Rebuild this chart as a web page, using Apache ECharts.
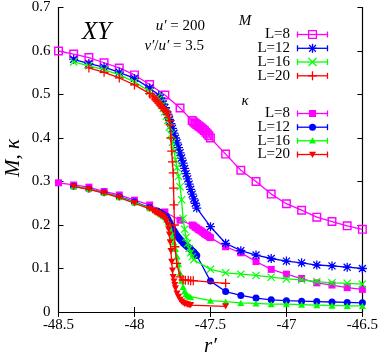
<!DOCTYPE html>
<html><head><meta charset="utf-8">
<script src="https://cdn.jsdelivr.net/npm/echarts@6/dist/echarts.min.js"></script>
<style>html,body{margin:0;padding:0;background:#fff}#c{width:381px;height:357px}</style>
</head><body><div id="c"></div>
<script>
// ---- tick labels ----
const xTicks = [-48.5, -48, -47.5, -47, -46.5];
const yTicks = [0, 0.1, 0.2, 0.3, 0.4, 0.5, 0.6, 0.7];
const sizeLabels = ['L=8', 'L=12', 'L=16', 'L=20'];

// ---- M (order parameter) ----
const M_L8 = [[-48.5,0.600],[-48.4,0.593],[-48.3,0.585],[-48.2,0.573],[-48.1,0.561],[-48.0,0.545],[-47.9,0.523],[-47.8,0.499],[-47.7,0.469],
 [-47.62,0.440],[-47.61,0.437],[-47.60,0.434],[-47.59,0.431],[-47.58,0.428],[-47.57,0.426],[-47.56,0.423],[-47.55,0.420],[-47.54,0.417],[-47.53,0.413],[-47.52,0.409],[-47.51,0.405],[-47.50,0.400],
 [-47.4,0.363],[-47.3,0.326],[-47.2,0.300],[-47.1,0.271],[-47.0,0.249],[-46.9,0.234],[-46.8,0.218],[-46.7,0.208],[-46.6,0.198],[-46.5,0.190]];
const M_L12 = [[-48.4,0.581],[-48.3,0.571],[-48.2,0.563],[-48.1,0.551],[-48.0,0.537],[-47.9,0.515],
 [-47.84,0.498],[-47.83,0.492],[-47.82,0.485],[-47.81,0.478],[-47.80,0.470],[-47.79,0.462],[-47.78,0.453],[-47.77,0.443],[-47.76,0.433],[-47.75,0.422],[-47.74,0.411],[-47.73,0.400],[-47.72,0.389],[-47.71,0.378],[-47.70,0.366],[-47.69,0.354],[-47.68,0.342],[-47.67,0.330],[-47.66,0.318],[-47.65,0.306],[-47.64,0.294],[-47.63,0.282],[-47.62,0.271],[-47.61,0.260],[-47.60,0.250],[-47.59,0.239],
 [-47.5,0.196],[-47.4,0.158],[-47.3,0.141],[-47.2,0.131],[-47.1,0.123],[-47.0,0.117],[-46.9,0.113],[-46.8,0.108],[-46.7,0.106],[-46.6,0.103],[-46.5,0.100]];
const M_L16 = [[-48.4,0.575],[-48.3,0.566],[-48.2,0.557],[-48.1,0.545],[-48.0,0.529],[-47.9,0.507],
 [-47.85,0.494],[-47.84,0.489],[-47.83,0.482],[-47.82,0.475],[-47.81,0.468],[-47.80,0.460],[-47.79,0.450],[-47.78,0.440],[-47.77,0.425],[-47.76,0.408],[-47.75,0.390],[-47.74,0.370],[-47.73,0.350],[-47.72,0.332],[-47.71,0.312],[-47.70,0.288],[-47.69,0.258],[-47.68,0.215],[-47.67,0.190],[-47.66,0.172],[-47.65,0.158],[-47.64,0.146],[-47.63,0.136],[-47.62,0.127],[-47.61,0.120],
 [-47.5,0.098],[-47.4,0.090],[-47.3,0.087],[-47.2,0.084],[-47.1,0.080],[-47.0,0.076],[-46.9,0.074],[-46.8,0.070],[-46.7,0.067],[-46.6,0.066],[-46.5,0.064]];
const M_L20 = [[-48.3,0.561],[-48.2,0.551],[-48.1,0.538],[-48.0,0.522],[-47.9,0.502],
 [-47.88,0.496],[-47.87,0.492],[-47.86,0.488],[-47.85,0.484],[-47.84,0.480],[-47.83,0.476],[-47.82,0.472],[-47.81,0.468],[-47.80,0.464],[-47.79,0.460],[-47.78,0.455],[-47.775,0.447],[-47.77,0.440],
 [-47.765,0.430],[-47.76,0.400],[-47.755,0.370],[-47.75,0.345],[-47.745,0.320],[-47.743,0.285],[-47.74,0.246],[-47.737,0.200],[-47.734,0.150],[-47.722,0.112],[-47.70,0.081],
 [-47.68,0.074],[-47.665,0.073],[-47.646,0.073],[-47.63,0.072],[-47.613,0.072],[-47.4,0.066]];

// ---- kappa ----
const K_L8 = [[-48.5,0.297],[-48.4,0.292],[-48.3,0.287],[-48.2,0.277],[-48.1,0.269],[-48.0,0.257],[-47.9,0.246],[-47.8,0.230],[-47.7,0.211],
 [-47.62,0.200],[-47.61,0.198],[-47.60,0.195],[-47.59,0.193],[-47.58,0.190],[-47.57,0.188],[-47.56,0.186],[-47.55,0.183],[-47.54,0.180],[-47.53,0.178],[-47.52,0.176],[-47.51,0.173],[-47.50,0.171],
 [-47.4,0.150],[-47.3,0.136],[-47.2,0.116],[-47.1,0.098],[-47.0,0.087],[-46.9,0.077],[-46.8,0.067],[-46.7,0.062],[-46.6,0.056],[-46.5,0.052]];
const K_L12 = [[-48.4,0.289],[-48.3,0.283],[-48.2,0.274],[-48.1,0.265],[-48.0,0.253],[-47.9,0.240],
 [-47.85,0.232],[-47.84,0.230],[-47.83,0.228],[-47.82,0.226],[-47.81,0.224],[-47.80,0.222],[-47.79,0.220],[-47.78,0.214],[-47.77,0.207],[-47.76,0.200],[-47.75,0.193],[-47.74,0.187],[-47.73,0.181],[-47.72,0.176],[-47.71,0.171],[-47.70,0.167],[-47.69,0.163],[-47.68,0.159],[-47.67,0.156],[-47.66,0.153],[-47.65,0.150],[-47.64,0.147],[-47.63,0.144],[-47.62,0.141],[-47.61,0.138],[-47.60,0.134],[-47.59,0.130],
 [-47.5,0.071],[-47.4,0.047],[-47.3,0.038],[-47.2,0.032],[-47.1,0.028],[-47.0,0.026],[-46.9,0.025],[-46.8,0.024],[-46.7,0.023],[-46.6,0.022],[-46.5,0.021]];
const K_L16 = [[-48.4,0.289],[-48.3,0.283],[-48.2,0.274],[-48.1,0.264],[-48.0,0.252],[-47.9,0.239],
 [-47.85,0.231],[-47.84,0.229],[-47.83,0.227],[-47.82,0.224],[-47.81,0.221],[-47.80,0.218],[-47.79,0.213],[-47.78,0.206],[-47.77,0.197],[-47.76,0.186],[-47.75,0.174],[-47.74,0.160],[-47.73,0.145],[-47.72,0.128],[-47.71,0.110],[-47.70,0.090],[-47.69,0.072],[-47.68,0.058],[-47.67,0.048],[-47.66,0.042],[-47.65,0.038],[-47.64,0.036],[-47.63,0.034],
 [-47.5,0.026],[-47.4,0.024],[-47.3,0.021],[-47.2,0.020],[-47.1,0.018],[-47.0,0.018],[-46.9,0.017],[-46.8,0.016],[-46.7,0.015],[-46.6,0.014],[-46.5,0.014]];
const K_L20 = [[-48.4,0.288],[-48.3,0.282],[-48.2,0.273],[-48.1,0.263],[-48.0,0.250],[-47.9,0.237],
 [-47.88,0.233],[-47.87,0.231],[-47.86,0.229],[-47.85,0.227],[-47.84,0.225],[-47.83,0.223],[-47.82,0.221],[-47.81,0.219],[-47.80,0.214],[-47.79,0.208],[-47.78,0.200],[-47.775,0.190],[-47.77,0.178],[-47.765,0.160],[-47.76,0.140],[-47.755,0.115],[-47.75,0.095],[-47.745,0.080],[-47.74,0.070],[-47.735,0.062],[-47.73,0.054],[-47.72,0.042],[-47.71,0.035],[-47.70,0.028],[-47.69,0.024],[-47.68,0.021],[-47.67,0.019],[-47.66,0.018],[-47.65,0.017],[-47.64,0.016],[-47.63,0.016],
 [-47.4,0.013]];

// ---- styling ----
const FONT = 'Liberation Serif';
const C = { mag: '#ff00ff', blue: '#0000ff', green: '#00ff00', red: '#ff0000' };
const P = {
  openSq: 'M0,0H10V10H0Z M1.6,1.6V8.4H8.4V1.6Z',
  star: 'M4.3,0H5.7V4.3H10V5.7H5.7V10H4.3V5.7H0V4.3H4.3Z M0.6,1.6L1.6,0.6L5,4L8.4,0.6L9.4,1.6L6,5L9.4,8.4L8.4,9.4L5,6L1.6,9.4L0.6,8.4L4,5Z',
  cross: 'M0,1L1,0L5,4L9,0L10,1L6,5L10,9L9,10L5,6L1,10L0,9L4,5Z',
  plus: 'M4.3,0H5.7V4.3H10V5.7H5.7V10H4.3V5.7H0V4.3H4.3Z',
  sq: 'M0,0H10V10H0Z',
  tri: 'M5,0L10,9L0,9Z',
  dtri: 'M0,0H10L5,9Z'
};

function mk(name, data, color, sym, size, z) {
  return {
    type: 'line', name, data, z,
    symbol: sym === 'circle' ? 'circle' : 'path://' + P[sym],
    symbolSize: size, symbolKeepAspect: true,
    lineStyle: { color, width: 1.3 },
    itemStyle: { color, borderWidth: 0 },
    emphasis: { disabled: true },
    animation: false, silent: true
  };
}

const series = [
  mk('M L=8', M_L8, C.mag, 'openSq', 9, 2),
  mk('M L=12', M_L12, C.blue, 'star', 9, 3),
  mk('M L=16', M_L16, C.green, 'cross', 8, 4),
  mk('M L=20', M_L20, C.red, 'plus', 9, 5),
  mk('K L=8', K_L8, C.mag, 'sq', 7, 2),
  mk('K L=12', K_L12, C.blue, 'circle', 7, 3),
  mk('K L=16', K_L16, C.green, 'tri', 7, 4),
  mk('K L=20', K_L20, C.red, 'dtri', 7, 5)
];

// ---- legend built from graphic elements ----
const graphic = [];
function txt(x, y, text, size, align, italic, extra) {
  graphic.push(Object.assign({
    type: 'text', x, y, silent: true,
    style: { text, fill: '#000', font: (italic ? 'italic ' : '') + size + 'px "' + FONT + '"',
      textAlign: align, textVerticalAlign: 'middle' }
  }, extra || {}));
}
function seg(x1, y1, x2, y2, color, w) {
  graphic.push({ type: 'line', silent: true, shape: { x1, y1, x2, y2 }, style: { stroke: color, lineWidth: w || 1.3 } });
}
function marker(cx, cy, sym, s, color) {
  const h = s / 2;
  if (sym === 'circle') {
    graphic.push({ type: 'circle', silent: true, shape: { cx, cy, r: h }, style: { fill: color } });
  } else if (sym === 'sq') {
    graphic.push({ type: 'rect', silent: true, shape: { x: cx - h, y: cy - h, width: s, height: s }, style: { fill: color } });
  } else if (sym === 'openSq') {
    graphic.push({ type: 'rect', silent: true, shape: { x: cx - h + 0.6, y: cy - h + 0.6, width: s - 1.2, height: s - 1.2 }, style: { fill: 'none', stroke: color, lineWidth: 1.3 } });
  } else if (sym === 'tri') {
    graphic.push({ type: 'polygon', silent: true, shape: { points: [[cx, cy - h], [cx + h, cy + h * 0.8], [cx - h, cy + h * 0.8]] }, style: { fill: color } });
  } else if (sym === 'dtri') {
    graphic.push({ type: 'polygon', silent: true, shape: { points: [[cx - h, cy - h * 0.8], [cx + h, cy - h * 0.8], [cx, cy + h]] }, style: { fill: color } });
  } else {
    if (sym === 'plus' || sym === 'star') { seg(cx - h, cy, cx + h, cy, color); seg(cx, cy - h, cx, cy + h, color); }
    if (sym === 'cross' || sym === 'star') { const k = sym === 'star' ? h * 0.75 : h; seg(cx - k, cy - k, cx + k, cy + k, color); seg(cx - k, cy + k, cx + k, cy - k, color); }
  }
}
function legendRow(y, label, color, sym, size) {
  txt(290, y, label, 15, 'right', false);
  seg(297, y, 328, y, color);
  seg(297.5, y - 3, 297.5, y + 3, color);
  seg(327.5, y - 3, 327.5, y + 3, color);
  marker(312.5, y, sym, size, color);
}
txt(245, 21.5, 'M', 15, 'center', true);
const mSyms = [['openSq', 9], ['star', 9], ['cross', 8], ['plus', 9]];
const kSyms = [['sq', 7], ['circle', 7], ['tri', 7], ['dtri', 7]];
const cols = [C.mag, C.blue, C.green, C.red];
const mRowY = [34.5, 48.3, 62, 75.8];
const kRowY = [113.5, 127.2, 140.8, 154.5];
sizeLabels.forEach((lab, i) => legendRow(mRowY[i], lab, cols[i], mSyms[i][0], mSyms[i][1]));
txt(245, 101.5, 'κ', 15, 'center', true);
sizeLabels.forEach((lab, i) => legendRow(kRowY[i], lab, cols[i], kSyms[i][0], kSyms[i][1]));

// annotations
txt(82, 32, 'XY', 25, 'left', true);
graphic.push({ type: 'text', x: 205, y: 26, silent: true, style: {
  text: '{i|u′} = 200', align: 'right', verticalAlign: 'middle', fill: '#000',
  font: '15px "' + FONT + '"',
  rich: { i: { fontStyle: 'italic', fontFamily: FONT, fontSize: 15 } } } });
graphic.push({ type: 'text', x: 204, y: 46.5, silent: true, style: {
  text: '{i|v′}/{i|u′} = 3.5', align: 'right', verticalAlign: 'middle', fill: '#000',
  font: '15px "' + FONT + '"',
  rich: { i: { fontStyle: 'italic', fontFamily: FONT, fontSize: 15 } } } });
// axis titles
txt(210.5, 346, 'r′', 21, 'center', true);
txt(13, 158, 'M, κ', 21, 'center', true, { rotation: Math.PI / 2 });

const axisCommon = {
  type: 'value',
  axisLine: { show: true, lineStyle: { color: '#000', width: 1.2 } },
  axisTick: { show: true, inside: true, length: 5, lineStyle: { color: '#000', width: 1 } },
  splitLine: { show: false },
  axisLabel: { color: '#000', fontFamily: FONT, fontSize: 15 }
};
const xMin = xTicks[0], xMax = xTicks[xTicks.length - 1], xInt = xTicks[1] - xTicks[0];
const yMin = yTicks[0], yMax = yTicks[yTicks.length - 1], yInt = 0.1;

const option = {
  backgroundColor: '#fff',
  animation: false,
  grid: { left: 58.5, right: 18, top: 7, bottom: 45, containLabel: false },
  xAxis: [
    Object.assign({}, axisCommon, { min: xMin, max: xMax, interval: xInt, position: 'bottom',
      axisLabel: Object.assign({}, axisCommon.axisLabel, { margin: 6, formatter: v => String(+v.toFixed(1)) }) }),
    Object.assign({}, axisCommon, { min: xMin, max: xMax, interval: xInt, position: 'top', axisLabel: { show: false } })
  ],
  yAxis: [
    Object.assign({}, axisCommon, { min: yMin, max: yMax, interval: yInt, position: 'left',
      axisLabel: Object.assign({}, axisCommon.axisLabel, { margin: 8, formatter: v => String(+v.toFixed(1)) }) }),
    Object.assign({}, axisCommon, { min: yMin, max: yMax, interval: yInt, position: 'right', axisLabel: { show: false } })
  ],
  series,
  graphic
};
const chart = echarts.init(document.getElementById('c'), null, { renderer: 'canvas' });
chart.setOption(option);
</script></body></html>
